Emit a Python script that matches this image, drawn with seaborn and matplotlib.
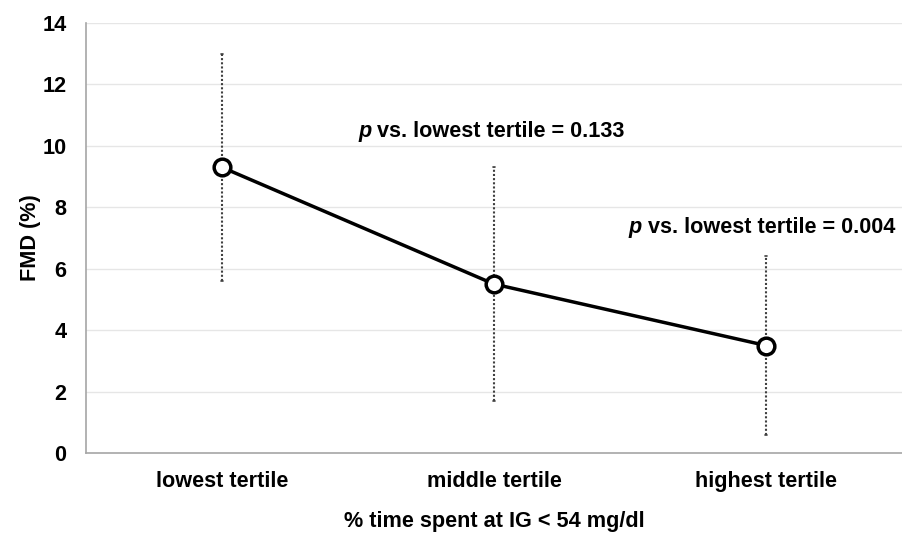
import matplotlib
matplotlib.use("Agg")
import matplotlib.pyplot as plt
import seaborn as sns
import pandas as pd
import numpy as np

categories = ["lowest tertile", "middle tertile", "highest tertile"]
fmd_mean = [9.3, 5.5, 3.5]
err_upper = [13.0, 9.3, 6.4]
err_lower = [5.6, 1.7, 0.6]
annotations = ["p vs. lowest tertile = 0.133", "p vs. lowest tertile = 0.004"]

sns.set_theme(style="white")
plt.rcParams['font.family'] = ['Liberation Sans', 'DejaVu Sans']
plt.rcParams['text.color'] = 'black'
plt.rcParams['xtick.color'] = 'black'
plt.rcParams['ytick.color'] = 'black'
plt.rcParams['axes.labelcolor'] = 'black'

FS = 15.6

df = pd.DataFrame({"cat": categories, "fmd": fmd_mean})

fig = plt.figure(figsize=(9.02, 5.36), dpi=100)
ax = fig.add_axes([86/902, (536-453)/536, (902-86)/902, (453-23)/536])

x = np.arange(len(categories)) + 0.5
for xi, lo, hi in zip(x, err_lower, err_upper):
    ax.plot([xi, xi], [lo, hi], linestyle=(0, (1, 1)), color="#404040", lw=1.5, zorder=2)
    ax.plot([xi - 0.005, xi + 0.005], [hi, hi], color="#404040", lw=1.2, zorder=2)
    ax.plot([xi - 0.005, xi + 0.005], [lo, lo], color="#404040", lw=1.2, zorder=2)

sns.lineplot(x=x, y=df["fmd"], ax=ax, color="black", lw=2.5, marker="o",
             markersize=12, markerfacecolor="white", markeredgecolor="black",
             markeredgewidth=2.5, zorder=3)

ax.set_xlim(0, 3)
ax.set_ylim(0, 14)
ax.set_yticks(range(0, 15, 2))
ax.set_xticks(x)
ax.set_xticklabels(categories)
ax.yaxis.grid(True, color="#e6e6e6", lw=1)
ax.set_axisbelow(True)
for s in ["top", "right"]:
    ax.spines[s].set_visible(False)
for s in ["left", "bottom"]:
    ax.spines[s].set_color("#a6a6a6")
    ax.spines[s].set_linewidth(1.2)
ax.tick_params(axis="both", length=0, labelsize=FS)
for lab in ax.get_xticklabels() + ax.get_yticklabels():
    lab.set_fontweight("bold")
ax.tick_params(axis="x", pad=13)
ax.tick_params(axis="y", pad=14)

ax.set_ylabel("FMD (%)", fontsize=FS, fontweight="bold", labelpad=1)
ax.set_xlabel("% time spent at IG < 54 mg/dl", fontsize=FS, fontweight="bold", labelpad=14)

def ann(xpos, ypos, text):
    p, rest = text.split(" ", 1)
    t1 = ax.text(xpos, ypos, p, fontsize=FS, fontweight="bold", fontstyle="italic",
                 va="baseline", ha="left")
    ax.annotate(" " + rest, xycoords=t1, xy=(1, 0), va="bottom", ha="left",
                fontsize=FS, fontweight="bold")

ann(1.0, 10.29, annotations[0])
ann(1.996, 7.16, annotations[1])

fig.savefig("out.png", dpi=100)
